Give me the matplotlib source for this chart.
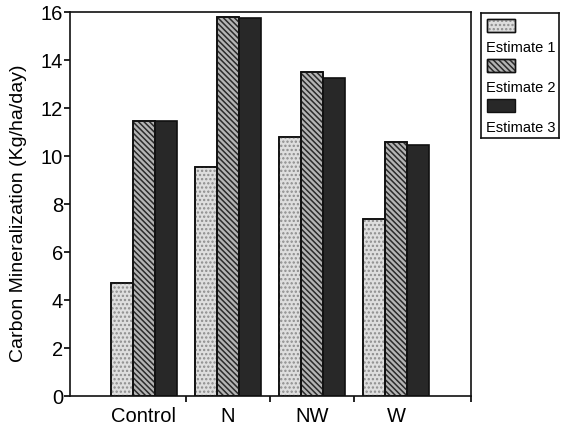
import numpy as np
import matplotlib
matplotlib.use('Agg')
import matplotlib.pyplot as plt
from matplotlib.patches import Rectangle

plt.rcParams['font.family'] = ['Liberation Sans', 'DejaVu Sans']
plt.rcParams['hatch.linewidth'] = 1.1

# Dati: mineralizzazione del carbonio per trattamento
sites = ['Control', 'N', 'NW', 'W']
estimate1 = [4.7, 9.55, 10.8, 7.35]
estimate2 = [11.45, 15.8, 13.5, 10.57]
estimate3 = [11.45, 15.75, 13.26, 10.43]
series_names = ['Estimate 1', 'Estimate 2', 'Estimate 3']
yticks = [0, 2, 4, 6, 8, 10, 12, 14, 16]

# stile delle barre: colore di fondo, tratteggio, colore del tratteggio
styles = [
    dict(face='#dedede', hatch='....', hcolor='#8c8c8c'),
    dict(face='#b4b4b4', hatch='\\' * 6, hcolor='#2a2a2a'),
    dict(face='#282828', hatch=None, hcolor='#282828'),
]

fig = plt.figure(figsize=(5.61, 4.27), dpi=100)
ax = fig.add_axes([70/561, 1-397/427, 401/561, 384.3/427])

x = np.arange(len(sites))
w = 0.262
for k, vals in enumerate([estimate1, estimate2, estimate3]):
    st = styles[k]
    pos = x + (k-1)*w
    ax.bar(pos, vals, w, color=st['face'], edgecolor='#111111', linewidth=1.2, zorder=2)
    if st['hatch']:
        ax.bar(pos, vals, w, fill=False, hatch=st['hatch'], edgecolor=st['hcolor'],
               linewidth=0, zorder=3)
        ax.bar(pos, vals, w, fill=False, edgecolor='#111111', linewidth=1.2, zorder=4)

xmax = 3.892
ax.set_xlim(-0.878, xmax)
ax.set_ylim(0, 16)
ax.set_yticks(yticks)
ax.tick_params(axis='y', labelsize=14.5, length=4.5, width=1.2, pad=0.5, direction='out')

# tacche tra i gruppi, etichette al centro dei gruppi
ax.set_xticks([0.5, 1.5, 2.5, xmax])
ax.set_xticklabels([])
ax.set_xticks(x, minor=True)
ax.set_xticklabels(sites, minor=True)
ax.tick_params(axis='x', which='major', length=4.5, width=1.2, direction='out')
ax.tick_params(axis='x', which='minor', length=0, labelsize=14.5, pad=7.5)

for s in ax.spines.values():
    s.set_linewidth(1.2)
    s.set_color('#111111')

ax.set_ylabel('Carbon Mineralization (Kg/ha/day)', fontsize=14)
ax.yaxis.set_label_coords(-0.107, 0.479)

# legenda: riquadro con campione sopra e testo sotto
lg = fig.add_axes([481/561, 1-139.3/427, 78/561, 125.3/427])
lg.set_xlim(0, 78)
lg.set_ylim(125.3, 0)
lg.set_xticks([])
lg.set_yticks([])
for s in lg.spines.values():
    s.set_linewidth(1.2)
    s.set_color('#111111')
for k, name in enumerate(series_names):
    st = styles[k]
    y0 = 6 + k*40
    lg.add_patch(Rectangle((6, y0), 28, 13, facecolor=st['face'], edgecolor='#111111',
                           linewidth=1.0))
    if st['hatch']:
        lg.add_patch(Rectangle((6, y0), 28, 13, fill=False, hatch=st['hatch'],
                               edgecolor=st['hcolor'], linewidth=0))
        lg.add_patch(Rectangle((6, y0), 28, 13, fill=False, edgecolor='#111111',
                               linewidth=1.0))
    lg.text(5, y0 + 28, name, fontsize=10.5, ha='left', va='center')

fig.savefig('out.png', dpi=100)
